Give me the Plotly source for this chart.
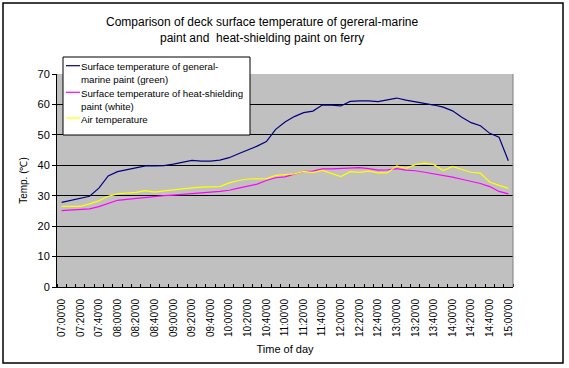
import plotly.graph_objects as go

times = [f"{h:02d}:{m:02d}'00" for h in range(7, 15) for m in range(0, 60, 10)] + ["15:00'00"]

general_marine = [27.8, 28.5, 29.0, 29.8, 32.5, 36.5, 37.9, 38.5, 39.2, 39.8,
                  39.8, 39.9, 40.4, 41.0, 41.6, 41.4, 41.4, 41.7, 42.5, 43.8,
                  45.0, 46.3, 47.8, 51.8, 54.2, 56.0, 57.3, 57.8, 59.8, 59.8,
                  59.5, 61.0, 61.2, 61.2, 60.9, 61.5, 62.1, 61.4, 60.9, 60.5,
                  59.8, 59.1, 57.9, 55.8, 54.0, 53.0, 50.5, 49.2, 41.5]

heat_shielding = [25.1, 25.3, 25.4, 25.7, 26.4, 27.5, 28.5, 28.8, 29.1, 29.6,
                  29.9, 30.0, 30.2, 30.5, 30.6, 30.9, 31.2, 31.4, 31.8, 32.5,
                  33.2, 33.8, 35.0, 35.9, 36.2, 37.0, 38.0, 38.1, 38.8, 38.8,
                  38.9, 39.1, 39.2, 38.9, 38.4, 38.5, 38.9, 38.4, 38.2, 37.7,
                  37.2, 36.7, 36.1, 35.4, 34.8, 34.0, 33.0, 31.4, 30.6]

air_temp = [26.5, 26.5, 26.5, 27.3, 28.3, 29.8, 30.6, 30.9, 31.1, 31.7,
            31.2, 31.6, 32.0, 32.4, 32.6, 32.8, 32.9, 33.0, 34.2, 35.0,
            35.5, 35.5, 35.6, 36.7, 37.0, 37.2, 38.0, 37.6, 38.3, 37.4,
            36.3, 37.9, 37.7, 38.1, 37.5, 37.5, 39.8, 39.0, 40.2, 40.7,
            40.2, 38.3, 39.6, 38.6, 37.7, 37.4, 34.5, 33.4, 32.4]

series_names = ["Surface temperature of general-<br>marine paint (green)",
                "Surface temperature of heat-shielding<br>paint (white)",
                "Air temperature"]
series_colors = ["#000080", "#FF00FF", "#FFFF00"]
title_lines = ["Comparison of deck surface temperature of gereral-marine",
               "paint and\u00a0 heat-shielding paint on ferry"]

FONT = "Liberation Sans"
W, H = 569, 368
L, R, T, B = 57, 56, 74, 81
PW, PH = W - L - R, H - T - B


def px(x):
    return (x - L) / PW


def py(y):
    return (H - B - y) / PH


idx = list(range(len(times)))

fig = go.Figure()
for name, vals, col in zip(series_names, [general_marine, heat_shielding, air_temp], series_colors):
    fig.add_trace(go.Scatter(x=idx, y=vals, mode="lines", name=name, showlegend=False,
                             line=dict(color=col, width=1.2), hoverinfo="skip"))

fig.update_layout(
    width=W, height=H,
    margin=dict(l=L, r=R, t=T, b=B, autoexpand=False),
    paper_bgcolor="white", plot_bgcolor="#C0C0C0",
    font=dict(family=FONT, size=11, color="black"),
    showlegend=False,
)

fig.update_xaxes(
    range=[-0.5, len(times) - 0.5],
    tickmode="array", tickvals=idx[::2], ticktext=times[::2],
    tickangle=-90, ticks="", tickfont=dict(family=FONT, size=10),
    ticklabelstandoff=7,
    showgrid=False, zeroline=False,
    showline=True, linecolor="black", linewidth=1,
    minor=dict(ticks="inside", tick0=0.5, dtick=1, ticklen=3, tickcolor="black", showgrid=False),
    title=dict(text="Time of day", font=dict(family=FONT, size=11), standoff=9),
)
fig.update_yaxes(
    range=[0, 70], dtick=10, tick0=0,
    ticks="outside", ticklen=4, tickcolor="black",
    showgrid=True, gridcolor="black", gridwidth=1,
    zeroline=False, showline=True, linecolor="black", linewidth=1,
    tickfont=dict(family=FONT, size=11),
    title=dict(text="Temp. (℃)", font=dict(family=FONT, size=10), standoff=8),
)

# title lines
for txt, yc in zip(title_lines, [22, 38]):
    fig.add_annotation(text=txt, xref="paper", yref="paper", x=px(262), y=py(yc),
                       xanchor="center", yanchor="middle", showarrow=False,
                       font=dict(family=FONT, size=12, color="black"))

# right edge of plot area
fig.add_shape(type="line", xref="paper", yref="paper", x0=1, x1=1, y0=0, y1=1,
              line=dict(color="#808080", width=1))

# custom legend box
fig.add_shape(type="rect", xref="paper", yref="paper",
              x0=px(63), x1=px(250), y0=py(135), y1=py(57),
              line=dict(color="black", width=1), fillcolor="white", layer="above")
entry_y = [65.7, 92.3, 118]
for name, col, ey in zip(series_names, series_colors, entry_y):
    fig.add_shape(type="line", xref="paper", yref="paper",
                  x0=px(66), x1=px(80), y0=py(ey), y1=py(ey),
                  line=dict(color=col, width=1.2), layer="above")
    fig.add_annotation(text=name, xref="paper", yref="paper", x=px(79), y=py(ey - 6.5),
                       xanchor="left", yanchor="top", align="left", showarrow=False,
                       font=dict(family=FONT, size=9.7, color="black"))

# outer chart border
fig.add_shape(type="rect", xref="paper", yref="paper",
              x0=px(3), x1=px(563), y0=py(363), y1=py(3),
              line=dict(color="black", width=1.5), fillcolor="rgba(0,0,0,0)", layer="above")

fig.write_html("out.html", config={"displayModeBar": False, "staticPlot": True},
               post_script="document.body.style.margin='0';")
